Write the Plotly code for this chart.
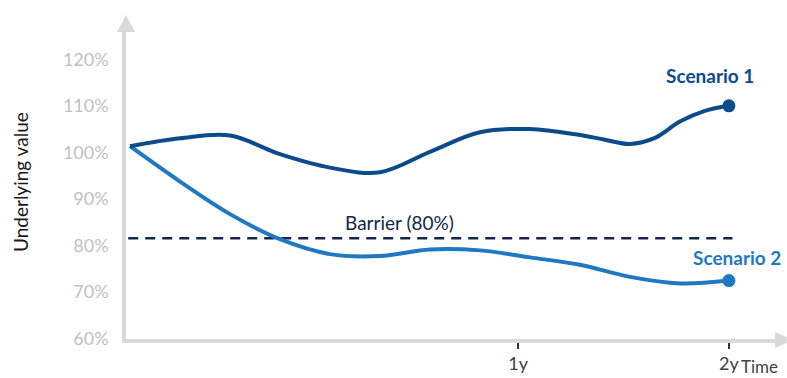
import plotly.graph_objects as go

# Time axis in relative units (0 = start, 100 = 2y)
TIME_TICKS = [64.8, 100]
TIME_LABELS = ["1y", "2y"]

Y_TICKS = [60, 70, 80, 90, 100, 110, 120]
Y_LABELS = ["60%", "70%", "80%", "90%", "100%", "110%", "120%"]

# Scenario 1: underlying recovers above its start level
S1_T = [0, 8.35, 16.7, 25.04, 33.39, 41.74, 50.08, 58.43, 66.78, 75.13,
        79.3, 83.47, 87.65, 91.82, 95.99, 100]
S1_V = [99.8, 101.5, 102.1, 98.1, 95.2, 94.2, 98.6, 102.8, 103.5, 102.2,
        101.2, 100.3, 101.6, 105.1, 107.4, 108.5]

# Scenario 2: underlying falls through the barrier and stays below
S2_T = [0, 8.35, 16.7, 25.04, 33.39, 41.74, 50.08, 58.43, 66.78, 75.13,
        83.47, 91.82, 100]
S2_V = [99.8, 92.2, 85.2, 79.8, 76.6, 76.2, 77.6, 77.4, 75.9, 74.3,
        71.7, 70.3, 70.9]

BARRIER = 80
BARRIER_T = [-0.3, 100.6]

C1 = "#0b4a8b"
C2 = "#1f78c1"
NAVY = "#13264b"
AXIS = "#d9d9d9"
FONT = "Lato"

W, H = 787, 378
ML, MR, MT, MB = 126, 12, 32, 39
PW, PH = W - ML - MR, H - MT - MB


def px_x(p):
    return (p - ML) / PW


def px_y(p):
    return (H - MB - p) / PH


fig = go.Figure()

fig.add_trace(go.Scatter(
    x=BARRIER_T, y=[BARRIER, BARRIER], mode="lines",
    line=dict(color=NAVY, width=2.6, dash="10px,7px"),
    hoverinfo="skip", showlegend=False,
))

for t, v, c in [(S2_T, S2_V, C2), (S1_T, S1_V, C1)]:
    fig.add_trace(go.Scatter(
        x=t, y=v, mode="lines",
        line=dict(color=c, width=4, shape="spline", smoothing=1.0),
        showlegend=False,
    ))
    fig.add_trace(go.Scatter(
        x=[t[-1]], y=[v[-1]], mode="markers",
        marker=dict(color=c, size=13, line=dict(width=0)),
        showlegend=False,
    ))

fig.add_annotation(x=45, y=BARRIER, yanchor="bottom", yshift=2,
                   text="Barrier (80%)", showarrow=False,
                   font=dict(family=FONT, size=19, color=NAVY))
fig.add_annotation(x=96.8, y=115.1, text="<b>Scenario 1</b>", showarrow=False,
                   font=dict(family=FONT, size=19, color=C1))
fig.add_annotation(x=101.3, y=75.8, text="<b>Scenario 2</b>", showarrow=False,
                   font=dict(family=FONT, size=19, color=C2))

fig.add_annotation(xref="paper", yref="paper", x=px_x(20), y=px_y(182),
                   xanchor="center", yanchor="middle",
                   text="Underlying value", textangle=-90, showarrow=False,
                   font=dict(family=FONT, size=19, color="#1a1a1a"))
fig.add_annotation(xref="paper", yref="paper", x=px_x(739), xanchor="left",
                   y=px_y(379), yanchor="bottom", text="Time", showarrow=False,
                   font=dict(family=FONT, size=17, color="#404040"))

# Arrow heads at the ends of both axes
fig.add_shape(type="path", xref="paper", yref="paper", layer="above",
              path=f"M {px_x(117)} {px_y(32)} L {px_x(126)} {px_y(15)} "
                   f"L {px_x(135)} {px_y(32)} Z",
              fillcolor=AXIS, line=dict(width=0))
fig.add_shape(type="path", xref="paper", yref="paper", layer="above",
              path=f"M {px_x(775)} {px_y(332)} L {px_x(793)} {px_y(340)} "
                   f"L {px_x(775)} {px_y(348)} Z",
              fillcolor=AXIS, line=dict(width=0))

fig.update_layout(
    width=W, height=H,
    margin=dict(l=ML, r=MR, t=MT, b=MB, autoexpand=False),
    paper_bgcolor="white", plot_bgcolor="white",
    font=dict(family=FONT),
    xaxis=dict(
        range=[-0.67, 107.7], showgrid=False, zeroline=False, automargin=False,
        showline=True, linecolor=AXIS, linewidth=3.5,
        tickvals=TIME_TICKS, ticktext=TIME_LABELS,
        ticks="outside", ticklen=6, tickwidth=1.5, tickcolor="#333333",
        tickfont=dict(family=FONT, size=18, color="#404040"),
    ),
    yaxis=dict(
        range=[58.34, 124.37], showgrid=False, zeroline=False, automargin=False,
        showline=True, linecolor=AXIS, linewidth=3.5,
        tickvals=Y_TICKS, ticktext=Y_LABELS, ticks="",
        ticklabelshift=7, ticklabelstandoff=10,
        tickfont=dict(family=FONT, size=18, color="#bfbfbf"),
    ),
)

fig.write_html("out.html")
